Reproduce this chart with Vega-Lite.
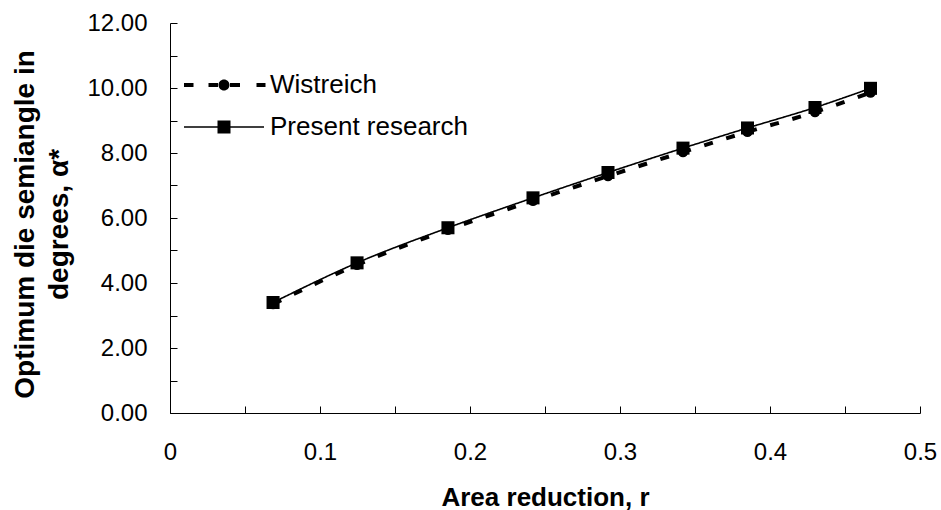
{
  "$schema": "https://vega.github.io/schema/vega-lite/v6.json",
  "width": 750,
  "height": 390,
  "autosize": {"type": "none"},
  "padding": {"left": 170, "top": 23, "right": 21, "bottom": 97},
  "background": "white",
  "config": {
    "view": {"stroke": null},
    "font": "Liberation Sans",
    "axis": {
      "domainColor": "black",
      "domainWidth": 1,
      "tickColor": "black",
      "tickWidth": 1,
      "grid": false,
      "labelFont": "Liberation Sans",
      "labelFontSize": 24,
      "labelColor": "black",
      "titleFont": "Liberation Sans",
      "titleFontWeight": "bold",
      "titleColor": "black",
      "labelOverlap": false,
      "labelFlush": false
    }
  },
  "data": {
    "values": [
      {"series": "Wistreich", "r": 0.0687, "alpha": 3.35},
      {"series": "Wistreich", "r": 0.1247, "alpha": 4.56},
      {"series": "Wistreich", "r": 0.1853, "alpha": 5.64},
      {"series": "Wistreich", "r": 0.242, "alpha": 6.53},
      {"series": "Wistreich", "r": 0.292, "alpha": 7.29},
      {"series": "Wistreich", "r": 0.342, "alpha": 8.03},
      {"series": "Wistreich", "r": 0.385, "alpha": 8.65},
      {"series": "Wistreich", "r": 0.43, "alpha": 9.26},
      {"series": "Wistreich", "r": 0.467, "alpha": 9.86},
      {"series": "Present research", "r": 0.0687, "alpha": 3.4},
      {"series": "Present research", "r": 0.1247, "alpha": 4.62},
      {"series": "Present research", "r": 0.1853, "alpha": 5.7},
      {"series": "Present research", "r": 0.242, "alpha": 6.62},
      {"series": "Present research", "r": 0.292, "alpha": 7.4},
      {"series": "Present research", "r": 0.342, "alpha": 8.15},
      {"series": "Present research", "r": 0.385, "alpha": 8.77},
      {"series": "Present research", "r": 0.43, "alpha": 9.4},
      {"series": "Present research", "r": 0.467, "alpha": 9.99}
    ]
  },
  "encoding": {
    "x": {
      "field": "r",
      "type": "quantitative",
      "scale": {"domain": [0, 0.5], "nice": false, "zero": false},
      "axis": {
        "title": "Area reduction, r",
        "titleFontSize": 26,
        "values": [0, 0.05, 0.1, 0.15, 0.2, 0.25, 0.3, 0.35, 0.4, 0.45, 0.5],
        "labelExpr": "round(datum.value*20) % 2 == 0 ? format(datum.value, '~g') : ''",
        "tickSize": -7,
        "labelPadding": 34,
        "titleY": 92,
        "titleBaseline": "alphabetic"
      }
    },
    "y": {
      "field": "alpha",
      "type": "quantitative",
      "scale": {"domain": [0, 12], "nice": false, "zero": false},
      "axis": {
        "title": ["Optimum die semiangle in", "degrees, α*"],
        "titleFontSize": 28,
        "values": [0, 1, 2, 3, 4, 5, 6, 7, 8, 9, 10, 11, 12],
        "labelExpr": "round(datum.value) % 2 == 0 ? format(datum.value, '.2f') : ''",
        "tickSize": -7,
        "labelPadding": 30,
        "titleX": -137,
        "titleY": 201,
        "titleBaseline": "alphabetic",
        "titleLineHeight": 34,
        "titleAngle": -90
      }
    }
  },
  "layer": [
    {
      "mark": {"type": "line", "interpolate": "monotone", "color": "black"},
      "encoding": {
        "detail": {"field": "series"},
        "strokeDash": {
          "field": "series",
          "type": "nominal",
          "scale": {"domain": ["Wistreich", "Present research"], "range": [[9, 14], [1, 0]]},
          "legend": {
            "title": null,
            "orient": "none",
            "legendX": 15,
            "legendY": 49,
            "padding": 0,
            "symbolSize": 400,
            "symbolOffset": 26,
            "symbolFillColor": "black",
            "symbolStrokeColor": "black",
            "rowPadding": 15,
            "labelOffset": 33,
            "labelFontSize": 26,
            "labelFont": "Liberation Sans",
            "labelColor": "black",
            "labelLimit": 400,
            "encode": {
              "symbols": {
                "update": {
                  "shape": {"signal": "datum.value === 'Wistreich' ? 'M-4,0L-4,-0.2L-3.05,-0.2L-3.05,0L-1.55,0L-1.55,-0.2L-0.6,-0.2L-0.6,0L-0.55,0A0.55,0.55 0 0,1 0.55,0L0.6,0L0.6,-0.2L1.6,-0.2L1.6,0L3.25,0L3.25,-0.2L4.15,-0.2L4.15,0.2L3.25,0.2L3.25,0L1.6,0L1.6,0.2L0.6,0.2L0.6,0L0.55,0A0.55,0.55 0 0,1 -0.55,0L-0.6,0L-0.6,0.2L-1.55,0.2L-1.55,0L-3.05,0L-3.05,0.2L-4,0.2Z' : 'M-4,-0.08L-0.65,-0.08L-0.65,-0.65L0.65,-0.65L0.65,-0.08L4,-0.08L4,0.08L0.65,0.08L0.65,0.65L-0.65,0.65L-0.65,0.08L-4,0.08Z'"},
                  "strokeWidth": {"value": 0},
                  "fill": {"value": "black"},
                  "fillOpacity": {"value": 1},
                  "stroke": {"value": "transparent"},
                  "opacity": {"value": 1}
                }
              }
            }
          }
        },
        "strokeWidth": {
          "field": "series",
          "type": "nominal",
          "scale": {"domain": ["Wistreich", "Present research"], "range": [4, 1.6]},
          "legend": null
        }
      }
    },
    {
      "transform": [{"filter": "datum.series === 'Wistreich'"}],
      "mark": {"type": "point", "shape": "circle", "size": 110, "filled": true, "color": "black", "opacity": 1}
    },
    {
      "transform": [{"filter": "datum.series === 'Present research'"}],
      "mark": {"type": "point", "shape": "square", "size": 170, "filled": true, "color": "black", "opacity": 1}
    }
  ]
}
